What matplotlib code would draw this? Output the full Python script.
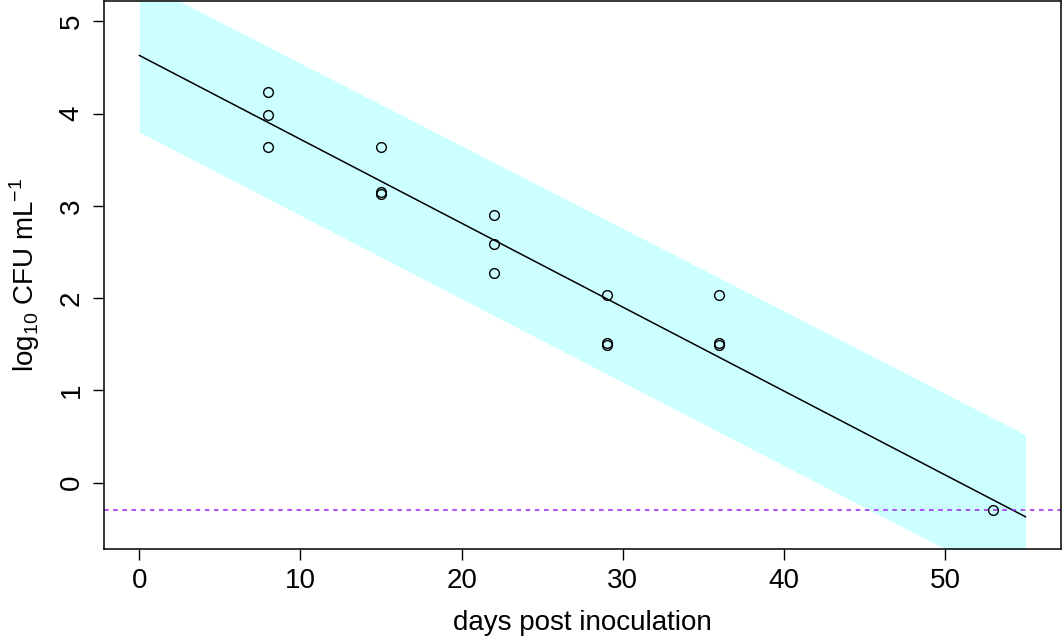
import numpy as np
import matplotlib
matplotlib.use("Agg")
import matplotlib.pyplot as plt

plt.rcParams['font.family'] = ['Liberation Sans', 'DejaVu Sans']
plt.rcParams['mathtext.fontset'] = 'custom'
plt.rcParams['mathtext.rm'] = 'Liberation Sans'

# observations
days = [8, 8, 8, 15, 15, 15, 22, 22, 22, 29, 29, 29, 36, 36, 36, 53]
log_cfu = [4.23, 3.98, 3.64, 3.64, 3.15, 3.13, 2.90, 2.59, 2.27,
           2.03, 1.51, 1.49, 2.03, 1.51, 1.49, -0.30]

# fitted line and band (ends at day 0 and day 55)
fit_x = [0, 55]
fit_y = [4.63, -0.37]
band_upper = [5.44, 0.52]
band_lower = [3.80, -1.17]
detection_limit = -0.30

fig = plt.figure(figsize=(10.63, 6.39), dpi=100, facecolor="white")
ax = fig.add_axes([0.0978, 0.1408, 0.9002, 0.8576])

ax.fill_between(fit_x, band_lower, band_upper, color="#CCFFFF", lw=0, zorder=1)
ax.plot(fit_x, fit_y, color="black", lw=1.1, zorder=2)
ax.axhline(detection_limit, color="#A020F0", lw=1.1, ls=(0, (3, 3)), zorder=2)
ax.plot(days, log_cfu, ls="none", marker="o", ms=7, mfc="none", mec="black",
        mew=1.0, zorder=3)

ax.set_xlim(-2.2, 57.2)
ax.set_ylim(-0.72, 5.22)
ax.set_xticks([0, 10, 20, 30, 40, 50])
ax.set_yticks([0, 1, 2, 3, 4, 5])
ax.tick_params(direction="out", length=8, width=1.0, labelsize=20, pad=6)
for lab in ax.get_yticklabels():
    lab.set_rotation(90)
    lab.set_va("center")
for s in ax.spines.values():
    s.set_linewidth(1.1)

ax.set_xlabel("days post inoculation", fontsize=20, labelpad=11)
ax.set_ylabel(r"log$_{10}$ CFU mL$^{-1}$", fontsize=20, labelpad=12)

fig.savefig("out.png", dpi=100)
